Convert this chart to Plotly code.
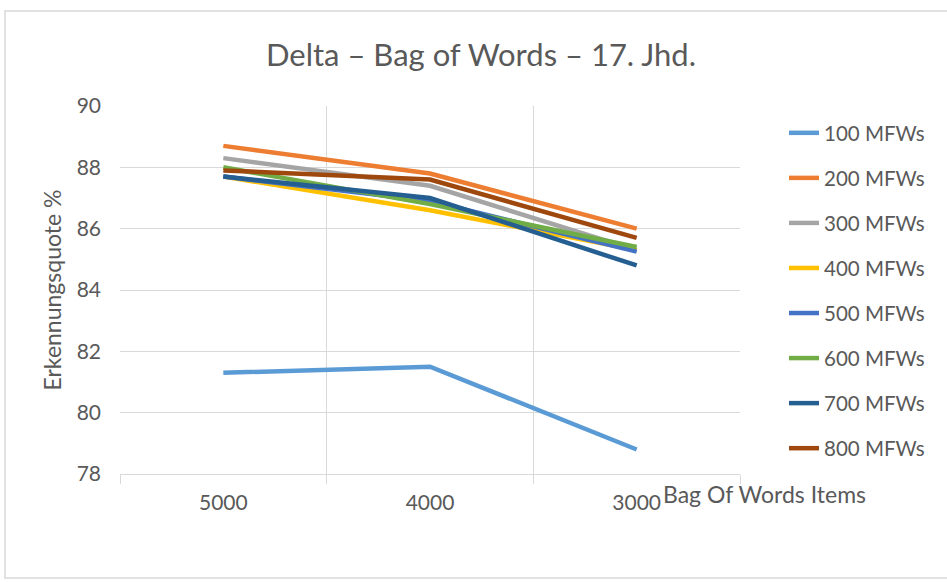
import plotly.graph_objects as go

categories = ["5000", "4000", "3000"]
series_names = ["100 MFWs", "200 MFWs", "300 MFWs", "400 MFWs",
                "500 MFWs", "600 MFWs", "700 MFWs", "800 MFWs"]
v100 = [81.3, 81.5, 78.8]
v200 = [88.7, 87.8, 86.0]
v300 = [88.3, 87.4, 85.3]
v400 = [87.7, 86.6, 85.3]
v500 = [87.7, 86.9, 85.25]
v600 = [88.0, 86.8, 85.4]
v700 = [87.7, 87.0, 84.8]
v800 = [87.9, 87.6, 85.7]
series_values = [v100, v200, v300, v400, v500, v600, v700, v800]
colors = ["#5B9BD5", "#ED7D31", "#A5A5A5", "#FFC000",
          "#4472C4", "#70AD47", "#255E91", "#9E480E"]
y_ticks = [78, 80, 82, 84, 86, 88, 90]

FONT = "Lato"
TXT = "#595959"
GRID = "#D9D9D9"

fig = go.Figure()
for name, vals, col in zip(series_names, series_values, colors):
    fig.add_trace(go.Scatter(
        x=categories, y=vals, name=name, mode="lines",
        line=dict(color=col, width=4.5), legendgroup=name,
    ))

# plot area in pixels: x 120..740, y 106..474
W, H = 947, 582
L, R, T, B = 120, 740, 106, 474
pw, ph = R - L, B - T

def px_x(p):
    return (p - L) / pw

def px_y(p):
    return (B - p) / ph

fig.update_layout(
    width=W, height=H,
    margin=dict(l=L, r=W - R, t=T, b=H - B),
    paper_bgcolor="white", plot_bgcolor="white",
    font=dict(family=FONT, color=TXT, size=20),
    title=dict(text="Delta – Bag of Words – 17. Jhd.", x=481 / W, xref="container",
               xanchor="center", y=1 - 55 / H, yref="container", yanchor="middle",
               font=dict(family=FONT, size=31, color=TXT)),
    showlegend=True,
    legend=dict(x=px_x(784), y=px_y(113), xanchor="left", yanchor="top",
                traceorder="grouped", tracegroupgap=15.4,
                font=dict(family=FONT, size=20.5, color=TXT),
                bgcolor="rgba(0,0,0,0)"),
    xaxis=dict(type="category", range=[-0.5, 2.5], tickson="boundaries",
               ticks="outside", ticklen=9, tickcolor=GRID, tickwidth=1,
               showgrid=True, gridcolor=GRID, gridwidth=1,
               showline=True, linecolor=GRID, linewidth=1,
               ticklabelstandoff=10,
               tickfont=dict(family=FONT, size=21, color=TXT),
               fixedrange=True),
    yaxis=dict(range=[78, 90], tickvals=y_ticks, showgrid=True, gridcolor=GRID,
               gridwidth=1, zeroline=False, showline=False, ticks="",
               ticklabelstandoff=18,
               tickfont=dict(family=FONT, size=21, color=TXT),
               title=dict(text="Erkennungsquote %", standoff=8,
                          font=dict(family=FONT, size=23, color=TXT)),
               fixedrange=True),
    shapes=[dict(type="rect", xref="paper", yref="paper",
                 x0=px_x(5), x1=px_x(960), y0=px_y(578), y1=px_y(11),
                 line=dict(color=GRID, width=1.5), fillcolor="rgba(0,0,0,0)",
                 layer="below")],
    annotations=[dict(text="Bag Of Words Items", xref="paper", yref="paper",
                      x=px_x(661), y=px_y(494), xanchor="left", yanchor="middle",
                      showarrow=False, font=dict(family=FONT, size=23, color=TXT))],
)

fig.write_html("out.html", config={"displayModeBar": False},
               post_script="document.body.style.margin='0px';")
